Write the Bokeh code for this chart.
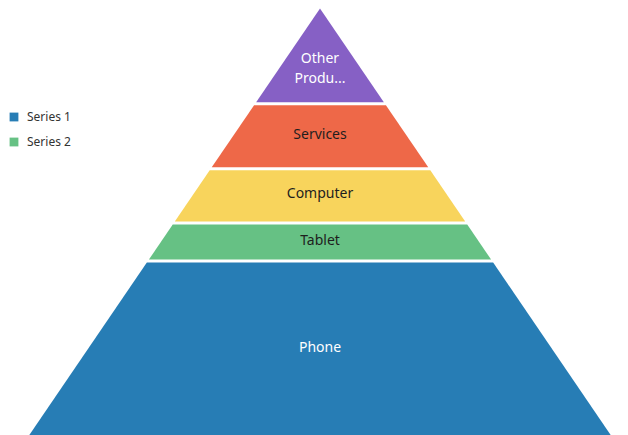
from bokeh.plotting import figure
from bokeh.models import Range1d, ColumnDataSource, Legend, LegendItem
from bokeh.core.properties import value
from bokeh.embed import file_html
from bokeh.resources import INLINE

# ---- data (bottom to top) ----
categories = ["Phone", "Tablet", "Computer", "Services", "Other Products"]
labels = ["Phone", "Tablet", "Computer", "Services", "Other\nProdu..."]
values = [41.2, 8.9, 12.7, 15.25, 21.95]
colors = ["#277db5", "#66c184", "#f8d45c", "#ee6848", "#8660c5"]
label_colors = ["#ffffff", "#1e1e1e", "#1e1e1e", "#1e1e1e", "#ffffff"]
legend_names = ["Series 1", "Series 2"]

W, H = 628, 435
total = sum(values)
pyr_h = 427                # pyramid height in px
px = total / pyr_h         # data units per px
base_half = 291.0          # pyramid half-width at base, in x units (px-like)
gap = 3 * px               # 3px white gap between segments
lift = 3 * px              # small upward nudge of labels

p = figure(width=W, height=H, output_backend="svg", toolbar_location=None,
           x_range=Range1d(-319.5, 308.5), y_range=Range1d(0, total + 8 * px),
           min_border=0, outline_line_color=None)
p.axis.visible = False
p.grid.visible = False
p.background_fill_color = "white"
p.border_fill_color = "white"

def hw(y):
    return base_half * (1 - y / total)

xs, ys, lx, ly = [], [], [], []
cum = 0.0
for i, v in enumerate(values):
    y0 = cum
    y1 = cum + v
    top = y1 if i == len(values) - 1 else y1 - gap
    xs.append([-hw(y0), hw(y0), hw(top), -hw(top)])
    ys.append([y0, y0, top, top])
    lx.append(0)
    if i == len(values) - 1:
        ly.append(y0 + (y1 - y0) * 0.37)
    else:
        ly.append((y0 + top) / 2 + lift)
    cum = y1

src = ColumnDataSource(dict(xs=xs, ys=ys, color=colors, cat=categories))
r = p.patches("xs", "ys", fill_color="color", line_color=None, source=src)

tsrc = ColumnDataSource(dict(x=lx, y=ly, t=labels, c=label_colors))
p.text("x", "y", text="t", text_color="c", source=tsrc,
       text_align="center", text_baseline="middle",
       text_font=value("Noto Sans"), text_font_size="14px",
       text_line_height=1.1)

# legend
items = [LegendItem(label=name, renderers=[r], index=i)
         for i, name in enumerate(legend_names)]
legend = Legend(items=items, location=(8, 284), glyph_width=11, glyph_height=11,
                label_standoff=8, label_height=20, spacing=5, padding=0, margin=0,
                label_text_font="Noto Sans", label_text_font_size="12px",
                label_text_color="#333333",
                border_line_alpha=0, background_fill_alpha=0)
p.add_layout(legend, "center")

open("out.html", "w").write(file_html(p, INLINE))
